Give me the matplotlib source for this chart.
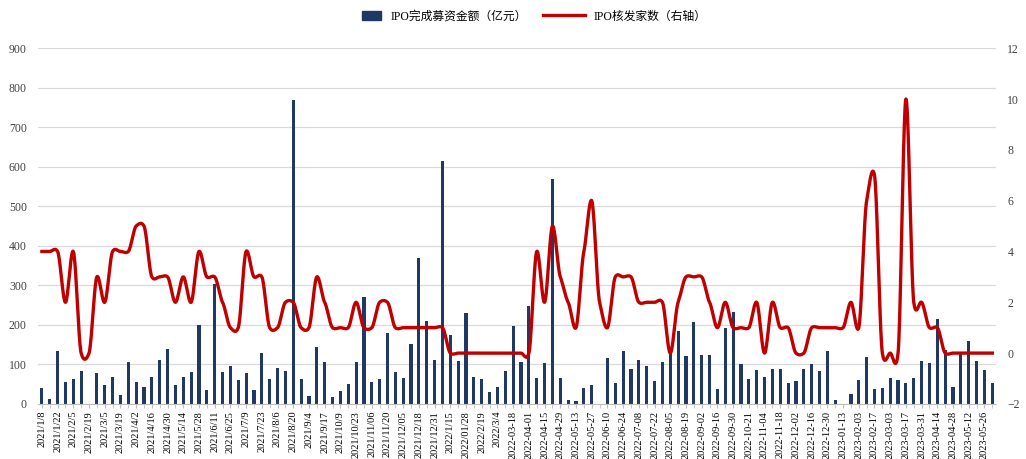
import matplotlib.pyplot as plt
import matplotlib.patches as mpatches
from matplotlib.legend_handler import HandlerPatch
import numpy as np

weeks = ['2021/1/8', '2021/1/15', '2021/1/22', '2021/1/29', '2021/2/5', '2021/2/12', '2021/2/19', '2021/2/26',
         '2021/3/5', '2021/3/12', '2021/3/19', '2021/3/26', '2021/4/2', '2021/4/9', '2021/4/16', '2021/4/23',
         '2021/4/30', '2021/5/7', '2021/5/14', '2021/5/21', '2021/5/28', '2021/6/4', '2021/6/11', '2021/6/18',
         '2021/6/25', '2021/7/2', '2021/7/9', '2021/7/16', '2021/7/23', '2021/7/30', '2021/8/6', '2021/8/13',
         '2021/8/20', '2021/8/27', '2021/9/4', '2021/9/10', '2021/9/17', '2021/9/24', '2021/10/9', '2021/10/15',
         '2021/10/23', '2021/10/29', '2021/11/06', '2021/11/12', '2021/11/20', '2021/11/26', '2021/12/05', '2021/12/10',
         '2021/12/18', '2021/12/24', '2021/12/31', '2022/1/7', '2022/1/15', '2022/1/21', '2022/01/28', '2022/2/11',
         '2022/2/19', '2022/2/25', '2022/3/4', '2022/3/11', '2022-03-18', '2022-03-25', '2022-04-01', '2022-04-08',
         '2022-04-15', '2022-04-22', '2022-04-29', '2022-05-06', '2022-05-13', '2022-05-20', '2022-05-27', '2022-06-03',
         '2022-06-10', '2022-06-17', '2022-06-24', '2022-07-01', '2022-07-08', '2022-07-15', '2022-07-22', '2022-07-29',
         '2022-08-05', '2022-08-12', '2022-08-19', '2022-08-26', '2022-09-02', '2022-09-09', '2022-09-16', '2022-09-23',
         '2022-09-30', '2022-10-14', '2022-10-21', '2022-10-28', '2022-11-04', '2022-11-11', '2022-11-18', '2022-11-25',
         '2022-12-02', '2022-12-09', '2022-12-16', '2022-12-23', '2022-12-30', '2023-01-06', '2023-01-13', '2023-01-20',
         '2023-02-03', '2023-02-10', '2023-02-17', '2023-02-24', '2023-03-03', '2023-03-10', '2023-03-17', '2023-03-24',
         '2023-03-31', '2023-04-07', '2023-04-14', '2023-04-21', '2023-04-28', '2023-05-05', '2023-05-12', '2023-05-19',
         '2023-05-26', '2023-06-02']

# IPO完成募资金额（亿元）
raise_amt = [40, 13, 135, 56, 64, 83, 0, 78, 49, 67, 23, 107, 55, 42, 67, 111,
             140, 47, 69, 80, 200, 35, 304, 81, 97, 61, 79, 35, 128, 62, 91, 83,
             770, 64, 19, 145, 105, 18, 33, 50, 107, 270, 55, 62, 179, 80, 66, 152,
             370, 209, 111, 615, 175, 109, 229, 69, 62, 30, 44, 84, 197, 107, 248, 66,
             104, 570, 66, 10, 8, 40, 47, 1, 115, 52, 134, 88, 110, 95, 57, 107,
             126, 184, 122, 206, 125, 125, 38, 191, 232, 100, 64, 85, 67, 88, 88, 52,
             59, 89, 101, 83, 135, 9, 0, 24, 61, 118, 37, 41, 66, 60, 52, 66,
             109, 103, 216, 137, 43, 126, 158, 109, 87, 53]

# IPO核发家数（右轴）
approvals = [4, 4, 4, 2, 4, 0, 0, 3, 2, 4, 4, 4, 5, 5, 3, 3,
             3, 2, 3, 2, 4, 3, 3, 2, 1, 1, 4, 3, 3, 1, 1, 2,
             2, 1, 1, 3, 2, 1, 1, 1, 2, 1, 1, 2, 2, 1, 1, 1,
             1, 1, 1, 1, 0, 0, 0, 0, 0, 0, 0, 0, 0, 0, 0, 4,
             2, 5, 3, 2, 1, 4, 6, 2, 1, 3, 3, 3, 2, 2, 2, 2,
             0, 2, 3, 3, 3, 2, 1, 2, 1, 1, 1, 2, 0, 2, 1, 1,
             0, 0, 1, 1, 1, 1, 1, 2, 1, 6, 7, 0, 0, 0, 10, 2,
             2, 1, 1, 0, 0, 0, 0, 0, 0, 0]


def smooth(x, y, c=0.55, n=20):
    # cardinal spline (softer than catmull-rom), looks like excel's smoothed line
    x = np.asarray(x, float)
    y = np.asarray(y, float)
    t = np.linspace(0, 1, n, endpoint=False)
    h00 = 2 * t ** 3 - 3 * t ** 2 + 1
    h10 = t ** 3 - 2 * t ** 2 + t
    h01 = -2 * t ** 3 + 3 * t ** 2
    h11 = t ** 3 - t ** 2
    my = np.empty_like(y)
    my[1:-1] = c * (y[2:] - y[:-2]) / 2
    my[0] = c * (y[1] - y[0])
    my[-1] = c * (y[-1] - y[-2])
    xs, ys = [], []
    for i in range(len(x) - 1):
        xs.extend(x[i] + t * (x[i + 1] - x[i]))
        ys.extend(h00 * y[i] + h10 * my[i] + h01 * y[i + 1] + h11 * my[i + 1])
    xs.append(x[-1])
    ys.append(y[-1])
    return np.array(xs), np.array(ys)


def small_box(legend, orig_handle, xdescent, ydescent, width, height, fontsize):
    return mpatches.Rectangle((-xdescent + width * 0.55, -ydescent), width * 0.45, height)


plt.rcParams['font.family'] = ['Liberation Serif', 'Noto Sans CJK SC']

fig = plt.figure(figsize=(10.26, 4.59), dpi=100)
ax = fig.add_axes([0.037, 0.12, 0.934, 0.775])
ax2 = ax.twinx()

bar_color = '#203864'
x = np.arange(len(weeks))
ax.bar(x, raise_amt, width=0.4, color=bar_color, zorder=2)
sx, sy = smooth(x, approvals)
line, = ax2.plot(sx, sy, color='#C00000', lw=2.4, zorder=3, label='IPO核发家数（右轴）')
bar_proxy = mpatches.Patch(color=bar_color, label='IPO完成募资金额（亿元）')

ax.set_xlim(-0.5, len(weeks) - 0.5)
ax.set_ylim(0, 900)
ax.set_yticks(range(0, 901, 100))
ax2.set_ylim(-2, 12)
ax2.set_yticks(range(-2, 13, 2))
ax.yaxis.grid(True, color='#D9D9D9', lw=0.9, zorder=0)
ax.set_axisbelow(True)

ax.set_xticks(x[::2])
ax.set_xticklabels(weeks[::2], rotation=90, fontsize=7.5)
ax.set_xticks(x[1::2], minor=True)
ax.tick_params(axis='x', which='both', length=3, color='#BFBFBF', pad=2)
ax.tick_params(axis='y', length=0, labelsize=8.5, labelcolor='#404040', pad=8)
ax2.tick_params(axis='y', length=0, labelsize=8.5, labelcolor='#404040', pad=8)

for a in (ax, ax2):
    for s in ('top', 'left', 'right'):
        a.spines[s].set_visible(False)
    a.spines['bottom'].set_color('#BFBFBF')
ax2.spines['bottom'].set_visible(False)

fig.legend(handles=[bar_proxy, line], loc='upper center', bbox_to_anchor=(0.51, 1.0), ncol=2,
           frameon=False, fontsize=8.5, handlelength=3.5, columnspacing=1.4,
           handler_map={bar_proxy: HandlerPatch(patch_func=small_box)})

fig.savefig('out.png', dpi=100)
